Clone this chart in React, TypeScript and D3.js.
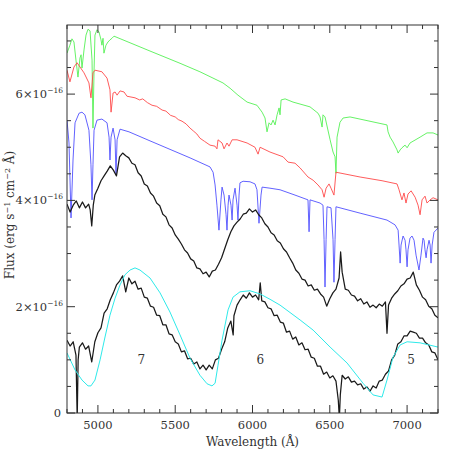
import * as d3 from "d3";

// plot box in page pixels
const W = 463;
const H = 463;
const box = { left: 67, right: 438, top: 25, bottom: 413 };

// axis ranges, flux in units of 1e-16 erg/s/cm2/A
const waveDomain = [4800, 7200];
const fluxDomain = [0, 7.3];
const waveMajor = [5000, 5500, 6000, 6500, 7000];
const fluxMajor = [0, 2, 4, 6];

// model spectra (offset for display)
const greenWave = [4800, 4819, 4832, 4845, 4858, 4871, 4884, 4891, 4897, 4910, 4923, 4936, 4949, 4962, 4968, 4975, 4981, 4994, 5007, 5020, 5026, 5033, 5039, 5052, 5065, 5078, 5091, 5104, 5337, 5531, 5660, 5809, 5855, 5906, 5965, 6029, 6062, 6081, 6094, 6107, 6120, 6133, 6146, 6159, 6172, 6178, 6185, 6211, 6262, 6372, 6424, 6437, 6450, 6456, 6469, 6502, 6521, 6534, 6540, 6547, 6566, 6586, 6631, 6870, 6877, 6890, 6909, 6935, 6942, 6955, 6967, 6987, 7000, 7019, 7084, 7129, 7168, 7200];
const greenFlux = [6.77, 6.92, 7.04, 6.98, 6.64, 6.32, 6.68, 6.74, 6.49, 6.83, 7.11, 7.22, 7.19, 6.64, 5.36, 6.45, 7.11, 7.21, 7.17, 7.02, 6.92, 7.05, 6.77, 6.92, 6.98, 7.02, 7.05, 7.09, 6.81, 6.58, 6.42, 6.21, 6.11, 5.98, 5.85, 5.79, 5.66, 5.55, 5.29, 5.46, 5.42, 5.51, 5.42, 5.61, 5.74, 5.61, 5.89, 5.91, 5.85, 5.76, 5.64, 5.57, 5.38, 5.61, 5.57, 5.14, 4.91, 4.82, 4.51, 5.19, 5.47, 5.55, 5.57, 5.42, 5.29, 5.19, 5.10, 4.95, 4.89, 4.95, 4.99, 5.04, 4.99, 5.08, 5.19, 5.27, 5.27, 5.23];

const redWave = [4800, 4819, 4845, 4865, 4884, 4910, 4942, 4955, 4968, 4981, 5026, 5059, 5078, 5085, 5098, 5111, 5124, 5143, 5169, 5188, 5240, 5270, 5290, 5320, 5350, 5380, 5415, 5440, 5470, 5500, 5520, 5544, 5570, 5596, 5620, 5640, 5660, 5690, 5725, 5758, 5770, 5777, 5803, 5816, 5835, 5848, 5868, 5900, 5965, 6016, 6036, 6049, 6113, 6198, 6230, 6275, 6308, 6359, 6392, 6424, 6450, 6463, 6476, 6495, 6508, 6527, 6540, 6696, 6838, 6935, 6948, 6967, 6980, 6993, 7006, 7026, 7052, 7071, 7084, 7097, 7116, 7129, 7149, 7168, 7200];
const redFlux = [6.45, 6.23, 6.51, 6.59, 6.51, 6.40, 6.21, 5.93, 6.40, 6.45, 6.42, 6.30, 6.08, 5.66, 6.02, 6.04, 5.98, 6.06, 6.04, 5.96, 5.93, 5.89, 5.91, 5.84, 5.79, 5.77, 5.70, 5.68, 5.60, 5.57, 5.52, 5.49, 5.44, 5.36, 5.30, 5.25, 5.17, 5.11, 5.04, 5.02, 4.97, 5.14, 5.08, 4.97, 5.08, 5.02, 5.14, 5.14, 5.08, 5.00, 4.87, 5.00, 4.91, 4.82, 4.72, 4.70, 4.61, 4.44, 4.38, 4.29, 4.20, 4.06, 4.23, 4.31, 4.23, 4.10, 4.53, 4.44, 4.37, 4.31, 4.20, 4.01, 4.14, 3.95, 4.12, 4.18, 4.06, 3.91, 3.73, 4.01, 4.08, 3.95, 4.01, 4.05, 4.01];

const blueWave = [4800, 4813, 4826, 4839, 4852, 4878, 4897, 4916, 4942, 4955, 4962, 4968, 4975, 4994, 5026, 5059, 5072, 5078, 5085, 5098, 5111, 5117, 5124, 5143, 5201, 5337, 5596, 5725, 5745, 5758, 5770, 5783, 5796, 5803, 5816, 5829, 5835, 5842, 5848, 5861, 5868, 5874, 5887, 5900, 5906, 5913, 5919, 5939, 5984, 6016, 6029, 6042, 6055, 6062, 6113, 6178, 6275, 6359, 6366, 6372, 6437, 6456, 6463, 6469, 6476, 6482, 6508, 6521, 6527, 6534, 6540, 6696, 6870, 6922, 6942, 6948, 6955, 6961, 6974, 6987, 6993, 7000, 7006, 7019, 7032, 7045, 7058, 7077, 7090, 7103, 7110, 7116, 7123, 7129, 7142, 7149, 7155, 7162, 7174, 7200];
const blueFlux = [5.51, 5.08, 3.67, 4.76, 5.46, 5.64, 5.66, 5.61, 5.32, 4.67, 4.01, 4.67, 5.32, 5.51, 5.53, 5.46, 5.19, 4.76, 5.19, 5.36, 5.14, 4.48, 5.14, 5.34, 5.29, 5.12, 4.80, 4.63, 4.53, 4.29, 3.91, 3.44, 4.01, 4.25, 4.10, 3.73, 3.44, 3.91, 4.10, 3.91, 3.63, 4.01, 4.23, 3.91, 3.63, 4.10, 4.33, 4.36, 4.35, 4.31, 4.20, 3.57, 4.10, 4.25, 4.23, 4.20, 4.10, 4.01, 3.41, 4.01, 3.95, 3.91, 3.26, 2.37, 3.26, 3.88, 3.86, 3.26, 2.46, 3.26, 3.88, 3.76, 3.63, 3.54, 3.44, 3.16, 2.82, 3.16, 3.33, 3.25, 3.07, 2.75, 3.07, 3.29, 3.33, 3.25, 2.97, 2.69, 2.97, 3.29, 3.25, 3.07, 2.92, 3.07, 3.25, 3.16, 2.82, 3.16, 3.40, 3.48];

// observed spectrum, upper copy
const obsTopWave = [4800, 4820, 4840, 4860, 4880, 4900, 4920, 4940, 4950, 4960, 4970, 4980, 5000, 5020, 5040, 5060, 5080, 5100, 5120, 5140, 5160, 5180, 5200, 5220, 5240, 5260, 5280, 5300, 5320, 5340, 5360, 5380, 5400, 5420, 5440, 5460, 5480, 5500, 5520, 5540, 5560, 5580, 5600, 5620, 5640, 5660, 5680, 5700, 5720, 5740, 5760, 5780, 5800, 5820, 5840, 5860, 5880, 5900, 5920, 5940, 5960, 5980, 6000, 6020, 6040, 6060, 6080, 6100, 6120, 6140, 6160, 6180, 6200, 6220, 6240, 6260, 6280, 6300, 6320, 6340, 6360, 6380, 6400, 6420, 6440, 6460, 6480, 6500, 6520, 6540, 6560, 6570, 6580, 6600, 6620, 6640, 6660, 6680, 6700, 6720, 6740, 6760, 6780, 6800, 6820, 6840, 6860, 6870, 6880, 6900, 6920, 6940, 6960, 6980, 7000, 7020, 7040, 7060, 7080, 7100, 7120, 7140, 7160, 7180, 7200];
const obsTopFlux = [3.93, 3.78, 3.91, 3.99, 3.86, 3.97, 3.86, 3.93, 3.82, 3.52, 3.91, 4.10, 4.23, 4.37, 4.46, 4.55, 4.65, 4.57, 4.46, 4.82, 4.89, 4.84, 4.80, 4.70, 4.67, 4.52, 4.46, 4.31, 4.27, 4.14, 4.08, 3.95, 3.90, 3.74, 3.69, 3.54, 3.48, 3.35, 3.27, 3.18, 3.07, 3.01, 2.90, 2.86, 2.73, 2.71, 2.62, 2.65, 2.56, 2.67, 2.69, 2.80, 2.92, 3.09, 3.26, 3.41, 3.52, 3.59, 3.65, 3.74, 3.76, 3.84, 3.78, 3.82, 3.73, 3.67, 3.56, 3.50, 3.39, 3.35, 3.24, 3.20, 3.09, 3.03, 2.92, 2.82, 2.69, 2.63, 2.52, 2.50, 2.39, 2.41, 2.31, 2.33, 2.24, 2.18, 2.01, 2.15, 2.26, 2.33, 2.54, 3.03, 2.65, 2.33, 2.31, 2.22, 2.20, 2.11, 2.15, 2.05, 2.09, 1.99, 2.03, 1.98, 2.05, 2.01, 2.09, 1.50, 2.03, 2.16, 2.24, 2.30, 2.39, 2.43, 2.52, 2.54, 2.65, 2.41, 2.31, 2.18, 2.13, 2.01, 1.96, 1.84, 1.79];

// observed spectrum, lower copy
const obsLowWave = [4800, 4820, 4840, 4858, 4866, 4872, 4880, 4900, 4920, 4940, 4960, 4980, 5000, 5020, 5040, 5060, 5080, 5100, 5120, 5140, 5160, 5180, 5200, 5220, 5240, 5260, 5280, 5300, 5320, 5340, 5360, 5380, 5400, 5420, 5440, 5460, 5480, 5500, 5520, 5540, 5560, 5580, 5600, 5620, 5640, 5660, 5680, 5700, 5720, 5740, 5760, 5780, 5800, 5820, 5840, 5860, 5875, 5880, 5900, 5920, 5940, 5960, 5980, 6000, 6020, 6040, 6050, 6060, 6080, 6100, 6120, 6140, 6160, 6180, 6200, 6220, 6240, 6260, 6280, 6300, 6320, 6340, 6360, 6380, 6400, 6420, 6440, 6460, 6480, 6500, 6520, 6540, 6555, 6562, 6568, 6580, 6600, 6620, 6640, 6660, 6680, 6700, 6720, 6740, 6760, 6780, 6800, 6820, 6840, 6860, 6880, 6900, 6920, 6940, 6960, 6980, 7000, 7020, 7040, 7060, 7080, 7100, 7120, 7140, 7160, 7180, 7200];
const obsLowFlux = [1.37, 1.26, 1.34, 1.09, -0.10, 1.00, 1.24, 1.32, 1.20, 1.26, 0.96, 1.34, 1.51, 1.60, 1.88, 1.96, 2.13, 2.26, 2.41, 2.48, 2.58, 2.28, 2.54, 2.43, 2.48, 2.33, 2.35, 2.18, 2.16, 2.01, 1.99, 1.84, 1.83, 1.66, 1.66, 1.49, 1.47, 1.34, 1.30, 1.15, 1.17, 1.02, 1.03, 0.92, 0.96, 0.83, 0.90, 0.81, 0.90, 0.83, 1.00, 1.03, 1.20, 1.34, 1.60, 1.73, 1.47, 1.83, 2.03, 2.13, 2.22, 2.16, 2.26, 2.18, 2.22, 2.13, 2.45, 2.11, 2.09, 1.98, 1.96, 1.83, 1.84, 1.71, 1.69, 1.52, 1.54, 1.39, 1.43, 1.28, 1.32, 1.19, 1.20, 1.05, 1.03, 0.88, 0.88, 0.73, 0.77, 0.66, 0.70, 0.60, 0.24, -0.10, 0.34, 0.71, 0.64, 0.68, 0.58, 0.60, 0.53, 0.55, 0.45, 0.49, 0.41, 0.51, 0.47, 0.60, 0.62, 0.73, 0.79, 1.00, 1.09, 1.30, 1.34, 1.45, 1.45, 1.54, 1.52, 1.50, 1.41, 1.41, 1.32, 1.28, 1.15, 1.13, 1.00];

// smooth fit
const fitWave = [4800, 4852, 4897, 4936, 4955, 4981, 5014, 5046, 5078, 5111, 5143, 5175, 5208, 5240, 5272, 5337, 5402, 5466, 5531, 5596, 5660, 5706, 5738, 5758, 5777, 5803, 5842, 5874, 5919, 5984, 6049, 6113, 6178, 6308, 6392, 6502, 6612, 6715, 6780, 6838, 6870, 6909, 6955, 7000, 7084, 7200];
const fitFlux = [1.13, 0.81, 0.62, 0.51, 0.51, 0.62, 1.00, 1.43, 1.84, 2.16, 2.41, 2.60, 2.69, 2.73, 2.69, 2.54, 2.26, 1.90, 1.47, 1.03, 0.71, 0.55, 0.51, 0.56, 0.90, 1.37, 1.94, 2.18, 2.28, 2.30, 2.24, 2.14, 2.03, 1.75, 1.56, 1.24, 0.94, 0.56, 0.34, 0.30, 0.62, 1.05, 1.28, 1.34, 1.32, 1.24];

const bandLabels = ["7", "6", "5"];
const bandWave = [5280, 6050, 7025];
const bandFlux = [1.02, 1.02, 1.02];

const series = [
  { name: "green", wave: greenWave, flux: greenFlux, color: "#55f055", width: 0.9 },
  { name: "red", wave: redWave, flux: redFlux, color: "#ff4a4a", width: 0.9 },
  { name: "blue", wave: blueWave, flux: blueFlux, color: "#5050ff", width: 0.9 },
  { name: "obsTop", wave: obsTopWave, flux: obsTopFlux, color: "#1a1a1a", width: 1.25 },
  { name: "obsLow", wave: obsLowWave, flux: obsLowFlux, color: "#1a1a1a", width: 1.25 },
  { name: "fit", wave: fitWave, flux: fitFlux, color: "#2eeaea", width: 1 },
];

const FONT = "'DejaVu Serif', serif";
const INK = "#333";

export default function App() {
  const x = d3.scaleLinear().domain(waveDomain).range([box.left, box.right]);
  const y = d3.scaleLinear().domain(fluxDomain).range([box.bottom, box.top]);

  const line = d3
    .line<[number, number]>()
    .x((d) => x(d[0]))
    .y((d) => y(d[1]));

  const waveMinor = d3.range(4800, 7201, 100).filter((v) => !waveMajor.includes(v));
  const fluxMinor = d3.range(0, 7.31, 0.5).filter((v) => !fluxMajor.includes(v));

  const majorLen = 8;
  const minorLen = 4;

  return (
    <svg
      width={W}
      height={H}
      style={{ position: "absolute", left: 0, top: 0, background: "#fff" }}
      fontFamily={FONT}
    >
      <defs>
        <clipPath id="plot">
          <rect x={box.left} y={box.top} width={box.right - box.left} height={box.bottom - box.top} />
        </clipPath>
      </defs>

      <g clipPath="url(#plot)" fill="none" strokeLinejoin="round">
        {series.map((s) => (
          <path
            key={s.name}
            d={line(s.wave.map((w, i) => [w, s.flux[i]] as [number, number])) || ""}
            stroke={s.color}
            strokeWidth={s.width}
          />
        ))}
      </g>

      {/* frame and ticks on all four sides */}
      <g stroke={INK} strokeWidth={1} fill="none">
        <rect x={box.left} y={box.top} width={box.right - box.left} height={box.bottom - box.top} />
        {waveMajor.map((v) => (
          <g key={"xM" + v}>
            <line x1={x(v)} x2={x(v)} y1={box.bottom} y2={box.bottom - majorLen} />
            <line x1={x(v)} x2={x(v)} y1={box.top} y2={box.top + majorLen} />
          </g>
        ))}
        {waveMinor.map((v) => (
          <g key={"xm" + v}>
            <line x1={x(v)} x2={x(v)} y1={box.bottom} y2={box.bottom - minorLen} />
            <line x1={x(v)} x2={x(v)} y1={box.top} y2={box.top + minorLen} />
          </g>
        ))}
        {fluxMajor.map((v) => (
          <g key={"yM" + v}>
            <line x1={box.left} x2={box.left + majorLen} y1={y(v)} y2={y(v)} />
            <line x1={box.right} x2={box.right - majorLen} y1={y(v)} y2={y(v)} />
          </g>
        ))}
        {fluxMinor.map((v) => (
          <g key={"ym" + v}>
            <line x1={box.left} x2={box.left + minorLen} y1={y(v)} y2={y(v)} />
            <line x1={box.right} x2={box.right - minorLen} y1={y(v)} y2={y(v)} />
          </g>
        ))}
      </g>

      <g fill={INK} fontSize={11.5}>
        {waveMajor.map((v) => (
          <text key={"xl" + v} x={x(v)} y={box.bottom + 16} textAnchor="middle">
            {v}
          </text>
        ))}
        {fluxMajor.map((v) =>
          v === 0 ? (
            <text key={"yl" + v} x={box.left - 6} y={y(v) + 4} textAnchor="end">
              0
            </text>
          ) : (
            <text key={"yl" + v} x={box.left - 4} y={y(v) + 4} textAnchor="end">
              {v}×10
              <tspan dy={-5} fontSize={7.5}>
                −16
              </tspan>
            </text>
          )
        )}
      </g>

      <g fill={INK} fontSize={12}>
        {bandLabels.map((t, i) => (
          <text key={"b" + t} x={x(bandWave[i])} y={y(bandFlux[i]) + 5} textAnchor="middle">
            {t}
          </text>
        ))}
      </g>

      <text x={(box.left + box.right) / 2} y={446} textAnchor="middle" fontSize={12} fill={INK}>
        Wavelength (Å)
      </text>
      <text
        transform={`translate(14, ${(box.top + box.bottom) / 2 - 4}) rotate(-90)`}
        textAnchor="middle"
        fontSize={12}
        fill={INK}
      >
        Flux (erg s
        <tspan dy={-4} fontSize={8}>−1</tspan>
        <tspan dy={4}> cm</tspan>
        <tspan dy={-4} fontSize={8}>−2</tspan>
        <tspan dy={4}> Å)</tspan>
      </text>
    </svg>
  );
}
